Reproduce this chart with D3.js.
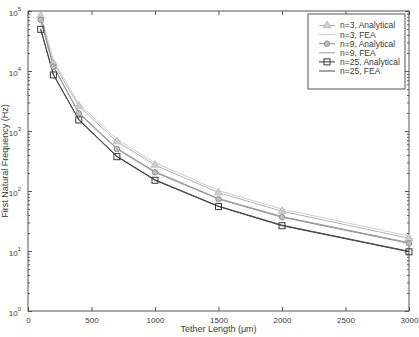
<!DOCTYPE html>
<html>
<head>
<meta charset="utf-8">
<script src="https://cdn.jsdelivr.net/npm/d3@7"></script>
<style>
    body { margin: 0; background: #fff; }
    svg { display: block; font-family: "Liberation Sans", Arial, sans-serif; }
</style>
</head>
<body>
<svg id="chart" width="419" height="337"></svg>
<script>
// tether lengths (um)
const lengths = [100, 200, 400, 700, 1000, 1500, 2000, 3000];
// first natural frequency (Hz)
const n3Analytical = [83000, 13500, 2600, 665, 271, 94, 46, 16.3];
const n3FEA = [90000, 14800, 2850, 730, 295, 102, 50, 17.8];
const n9Analytical = [71000, 11800, 1970, 500, 205, 73, 36.5, 13.4];
const n9FEA = [73000, 12100, 2030, 515, 211, 75, 37.5, 13.8];
const n25Analytical = [49500, 8600, 1530, 373, 151, 55, 26.4, 9.7];
const n25FEA = [50500, 8800, 1560, 381, 154, 56, 27, 9.9];
const xTicks = [0, 500, 1000, 1500, 2000, 2500, 3000];
const yExponents = [0, 1, 2, 3, 4, 5];

const series = [
    { name: 'n=3, Analytical', values: n3Analytical, color: '#b4b4b4', marker: 'triangle', fill: '#cfcfcf' },
    { name: 'n=3, FEA', values: n3FEA, color: '#cdcdcd', marker: null },
    { name: 'n=9, Analytical', values: n9Analytical, color: '#8f8f8f', marker: 'circle', fill: '#bdbdbd' },
    { name: 'n=9, FEA', values: n9FEA, color: '#9a9a9a', marker: null },
    { name: 'n=25, Analytical', values: n25Analytical, color: '#383838', marker: 'square', fill: 'none' },
    { name: 'n=25, FEA', values: n25FEA, color: '#4a4a4a', marker: null }
];

const plotLeft = 28, plotRight = 409, plotTop = 11, plotBottom = 311;
const svg = d3.select('#chart');
const x = d3.scaleLinear().domain([0, 3000]).range([plotLeft, plotRight]);
const y = d3.scaleLog().domain([1, 1e5]).range([plotBottom, plotTop]);

const axisColor = '#555';
const textColor = '#3a3a3a';
const minorTicks = [];
for (let e = 0; e < 5; e++) {
    for (let k = 2; k <= 9; k++) minorTicks.push(k * Math.pow(10, e));
}
const majorTicks = yExponents.map((e) => Math.pow(10, e));

// frame
svg.append('rect')
    .attr('x', plotLeft).attr('y', plotTop)
    .attr('width', plotRight - plotLeft).attr('height', plotBottom - plotTop)
    .attr('fill', 'none').attr('stroke', axisColor);

const styleAxis = (g) => {
    g.select('.domain').remove();
    g.selectAll('line').attr('stroke', axisColor);
    g.selectAll('text').attr('fill', textColor).attr('font-size', 8);
};

// x axes (bottom with labels, top ticks only)
svg.append('g')
    .attr('transform', 'translate(0,' + plotBottom + ')')
    .call(d3.axisBottom(x).tickValues(xTicks).tickSize(-4).tickPadding(6).tickFormat(d3.format('d')))
    .call(styleAxis);
svg.append('g')
    .attr('transform', 'translate(0,' + plotTop + ')')
    .call(d3.axisTop(x).tickValues(xTicks).tickSize(-4).tickFormat(''))
    .call(styleAxis);

// y axes, minor then major
svg.append('g')
    .attr('transform', 'translate(' + plotLeft + ',0)')
    .call(d3.axisLeft(y).tickValues(minorTicks).tickSize(-2).tickFormat(''))
    .call(styleAxis);
svg.append('g')
    .attr('transform', 'translate(' + plotRight + ',0)')
    .call(d3.axisRight(y).tickValues(minorTicks).tickSize(-2).tickFormat(''))
    .call(styleAxis);
svg.append('g')
    .attr('transform', 'translate(' + plotRight + ',0)')
    .call(d3.axisRight(y).tickValues(majorTicks).tickSize(-4).tickFormat(''))
    .call(styleAxis);
const yAxis = svg.append('g')
    .attr('transform', 'translate(' + plotLeft + ',0)')
    .call(d3.axisLeft(y).tickValues(majorTicks).tickSize(-4).tickPadding(7).tickFormat(''))
    .call(styleAxis);
yAxis.selectAll('.tick text').each(function (d) {
    const t = d3.select(this);
    t.attr('dy', '0.5em');
    t.append('tspan').text('10');
    t.append('tspan').attr('font-size', 6).attr('dy', '-0.8em').text(Math.round(Math.log10(d)));
});

// axis titles
svg.append('text')
    .attr('x', (plotLeft + plotRight) / 2).attr('y', 332)
    .attr('text-anchor', 'middle').attr('font-size', 9).attr('fill', textColor)
    .text('Tether Length (\u03bcm)');
svg.append('text')
    .attr('transform', 'translate(8,' + ((plotTop + plotBottom) / 2) + ') rotate(-90)')
    .attr('text-anchor', 'middle').attr('font-size', 9).attr('fill', textColor)
    .text('First Natural Frequency (Hz)');

const drawMarker = (g, s, cx, cy) => {
    if (s.marker === 'triangle') {
        g.append('path')
            .attr('d', d3.symbol(d3.symbolTriangle, 26)())
            .attr('transform', 'translate(' + cx + ',' + cy + ')')
            .attr('fill', s.fill).attr('stroke', s.color).attr('stroke-width', 0.8);
    } else if (s.marker === 'circle') {
        g.append('circle')
            .attr('cx', cx).attr('cy', cy).attr('r', 2.8)
            .attr('fill', s.fill).attr('stroke', s.color).attr('stroke-width', 0.9);
    } else if (s.marker === 'square') {
        g.append('rect')
            .attr('x', cx - 3).attr('y', cy - 3).attr('width', 6).attr('height', 6)
            .attr('fill', s.fill).attr('stroke', s.color).attr('stroke-width', 1);
    }
};

const line = d3.line()
    .x((d, i) => x(lengths[i]))
    .y((d) => y(d));

const plot = svg.append('g');
series.forEach((s) => {
    plot.append('path')
        .attr('d', line(s.values))
        .attr('fill', 'none')
        .attr('stroke', s.color)
        .attr('stroke-width', 1);
});
series.forEach((s) => {
    if (!s.marker) return;
    s.values.forEach((v, i) => drawMarker(plot, s, x(lengths[i]), y(v)));
});

// legend
const legend = svg.append('g');
legend.append('rect')
    .attr('x', 308).attr('y', 14).attr('width', 97).attr('height', 75)
    .attr('fill', '#fff').attr('stroke', axisColor);
series.forEach((s, i) => {
    const ly = 25.5 + i * 9.1;
    legend.append('line')
        .attr('x1', 319).attr('x2', 335).attr('y1', ly).attr('y2', ly)
        .attr('stroke', s.color).attr('stroke-width', 1);
    drawMarker(legend, s, 327, ly);
    legend.append('text')
        .attr('x', 340).attr('y', ly).attr('dy', '0.35em')
        .attr('font-size', 8.5).attr('fill', textColor)
        .text(s.name);
});
</script>
</body>
</html>
